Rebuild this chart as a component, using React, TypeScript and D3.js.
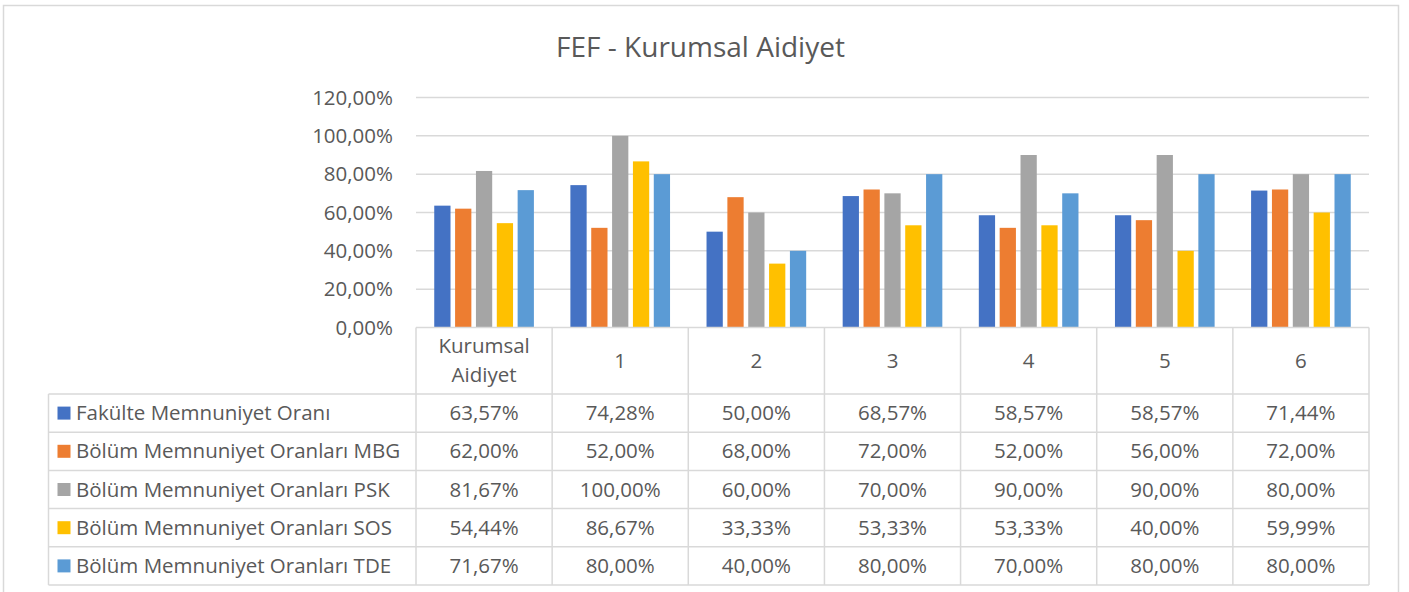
import React from 'react';
import * as d3 from 'd3';

const categories = ['Kurumsal Aidiyet', '1', '2', '3', '4', '5', '6'];
const seriesNames = [
  'Fakülte Memnuniyet Oranı',
  'Bölüm Memnuniyet Oranları MBG',
  'Bölüm Memnuniyet Oranları PSK',
  'Bölüm Memnuniyet Oranları SOS',
  'Bölüm Memnuniyet Oranları TDE',
];
const fakulte = [63.57, 74.28, 50.0, 68.57, 58.57, 58.57, 71.44];
const mbg = [62.0, 52.0, 68.0, 72.0, 52.0, 56.0, 72.0];
const psk = [81.67, 100.0, 60.0, 70.0, 90.0, 90.0, 80.0];
const sos = [54.44, 86.67, 33.33, 53.33, 53.33, 40.0, 59.99];
const tde = [71.67, 80.0, 40.0, 80.0, 70.0, 80.0, 80.0];
const yTicks = [0, 20, 40, 60, 80, 100, 120];

const values = [fakulte, mbg, psk, sos, tde];
const colors = ['#4472C4', '#ED7D31', '#A5A5A5', '#FFC000', '#5B9BD5'];

const W = 1409;
const H = 592;
const plotLeft = 416;
const plotRight = 1369;
const plotTop = 97.5;
const plotBottom = 327.5;
const tableLeft = 48.5;
const headerBottom = 394;
const rowH = 38.2;
const fmt = (v: number) => v.toFixed(2).replace('.', ',') + '%';
const font = "'Open Sans', 'DejaVu Sans', sans-serif";
const textColor = '#595959';
const lineColor = '#d9d9d9';
const fs = 20.5;

const App: React.FC = () => {
  const x = d3.scaleBand<string>().domain(categories).range([plotLeft, plotRight]).padding(0);
  const bw = x.bandwidth();
  const x1 = d3
    .scaleBand<number>()
    .domain(d3.range(seriesNames.length))
    .range([bw * 0.134, bw * 0.866])
    .paddingInner(0.22);
  const y = d3.scaleLinear().domain([0, 120]).range([plotBottom, plotTop]);
  const tableBottom = headerBottom + rowH * seriesNames.length;

  return (
    <svg width={W} height={H} style={{ position: 'absolute', left: 0, top: 0, background: '#fff' }}>
      <rect x={3.5} y={5.5} width={1395} height={600} fill="#fff" stroke={lineColor} strokeWidth={1.5} />
      <text x={(plotLeft + plotRight) / 2 - 192} y={57} textAnchor="middle" fontFamily={font} fontSize={28} fill={textColor}>
        FEF - Kurumsal Aidiyet
      </text>

      {/* gridlines + y labels */}
      {yTicks.map(t => (
        <g key={t}>
          {t > 0 && <line x1={plotLeft} x2={plotRight} y1={y(t)} y2={y(t)} stroke={lineColor} strokeWidth={1.5} />}
          <text x={393} y={y(t)} dy="0.35em" textAnchor="end" fontFamily={font} fontSize={fs} fill={textColor}>
            {fmt(t)}
          </text>
        </g>
      ))}

      {/* bars */}
      {categories.map((c, ci) => (
        <g key={c} transform={`translate(${x(c)},0)`}>
          {values.map((s, si) => (
            <rect
              key={si}
              x={x1(si)}
              y={y(s[ci])}
              width={x1.bandwidth()}
              height={y(0) - y(s[ci])}
              fill={colors[si]}
            />
          ))}
        </g>
      ))}

      {/* data table lines */}
      <g stroke={lineColor} strokeWidth={1.5}>
        <line x1={plotLeft} x2={plotRight} y1={plotBottom} y2={plotBottom} />
        {d3.range(seriesNames.length + 1).map(i => (
          <line key={i} x1={tableLeft} x2={plotRight} y1={headerBottom + i * rowH} y2={headerBottom + i * rowH} />
        ))}
        <line x1={tableLeft} x2={tableLeft} y1={headerBottom} y2={tableBottom} />
        {categories.map(c => (
          <line key={c} x1={x(c)} x2={x(c)} y1={plotBottom} y2={tableBottom} />
        ))}
        <line x1={plotRight} x2={plotRight} y1={plotBottom} y2={tableBottom} />
      </g>

      {/* header labels */}
      {categories.map(c => {
        const cx = (x(c) ?? 0) + bw / 2;
        const words = c.split(' ');
        const mid = (plotBottom + headerBottom) / 2;
        return (
          <text key={c} x={cx} textAnchor="middle" fontFamily={font} fontSize={fs} fill={textColor}>
            {words.map((w, i) => (
              <tspan key={i} x={cx} y={mid + (i - (words.length - 1) / 2) * 29} dy="0.35em">
                {w}
              </tspan>
            ))}
          </text>
        );
      })}

      {/* legend column + values */}
      {seriesNames.map((name, si) => {
        const cy = headerBottom + (si + 0.5) * rowH;
        return (
          <g key={name}>
            <rect x={57.5} y={cy - 6.5} width={13} height={13} fill={colors[si]} />
            <text x={76} y={cy} dy="0.35em" fontFamily={font} fontSize={fs} fill={textColor}>
              {name}
            </text>
            {categories.map((c, ci) => (
              <text
                key={c}
                x={(x(c) ?? 0) + bw / 2}
                y={cy}
                dy="0.35em"
                textAnchor="middle"
                fontFamily={font}
                fontSize={fs}
                fill={textColor}
              >
                {fmt(values[si][ci])}
              </text>
            ))}
          </g>
        );
      })}
    </svg>
  );
};

export default App;
